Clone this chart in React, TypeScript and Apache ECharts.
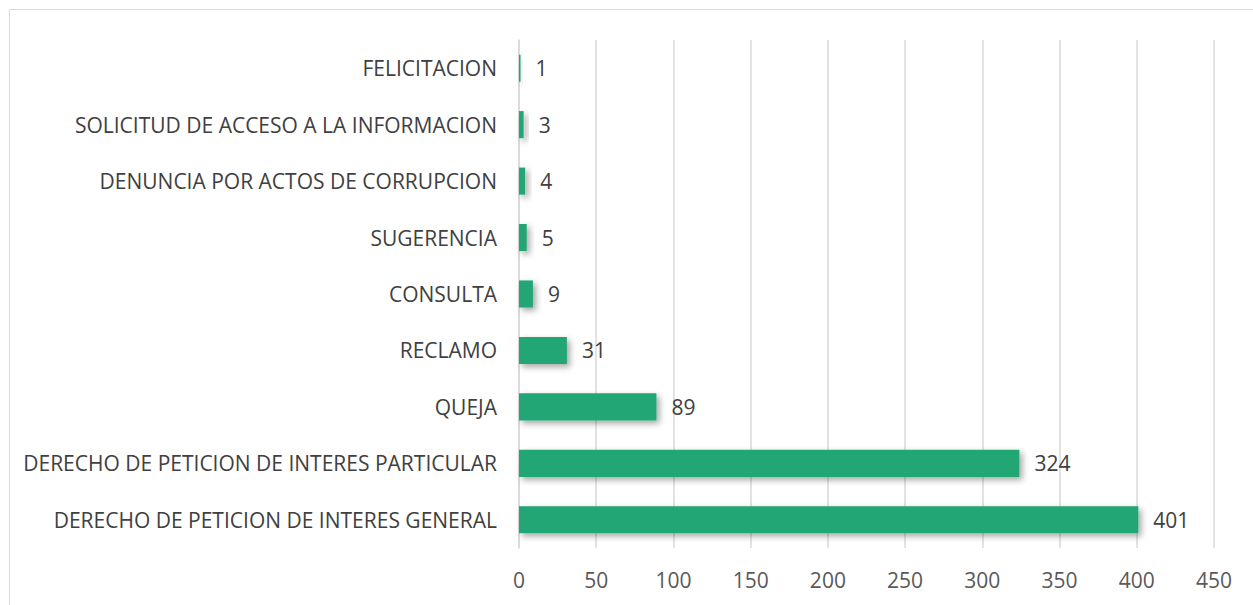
import React, { useEffect, useRef } from "react";
import * as echarts from "echarts";

const categories = [
  "DERECHO DE PETICION DE INTERES GENERAL",
  "DERECHO DE PETICION DE INTERES PARTICULAR",
  "QUEJA",
  "RECLAMO",
  "CONSULTA",
  "SUGERENCIA",
  "DENUNCIA POR ACTOS DE CORRUPCION",
  "SOLICITUD DE ACCESO A LA INFORMACION",
  "FELICITACION",
];
const values = [401, 324, 89, 31, 9, 5, 4, 3, 1];
const axisMax = 450;
const axisInterval = 50;

export default function App() {
  const ref = useRef<HTMLDivElement>(null);
  useEffect(() => {
    if (!ref.current) return;
    const chart = echarts.init(ref.current, undefined, { renderer: "svg" });
    const font = "'Open Sans', 'Noto Sans', sans-serif";
    chart.setOption({
      animation: false,
      backgroundColor: "#ffffff",
      graphic: [
        {
          type: "rect",
          shape: { x: 9.5, y: 9.5, width: 1260, height: 620 },
          style: { fill: "none", stroke: "#d9d9d9", lineWidth: 1 },
          silent: true,
        },
      ],
      grid: { left: 519, right: 39, top: 40, bottom: 57 },
      xAxis: {
        type: "value",
        min: 0,
        max: axisMax,
        interval: axisInterval,
        axisLine: { show: false },
        axisTick: { show: false },
        splitLine: { lineStyle: { color: "#d9d9d9", width: 1.5 } },
        axisLabel: { color: "#595959", fontSize: 21, fontFamily: font, margin: 21 },
      },
      yAxis: {
        type: "category",
        data: categories,
        axisLine: { show: true, lineStyle: { color: "#d9d9d9", width: 1.5 } },
        axisTick: { show: false },
        axisLabel: { color: "#404040", fontSize: 21, fontFamily: font, margin: 22 },
      },
      series: [
        {
          type: "bar",
          data: values,
          barCategoryGap: "52%",
          itemStyle: {
            color: "#21A675",
            shadowColor: "rgba(0,0,0,0.35)",
            shadowBlur: 6,
            shadowOffsetX: 3,
            shadowOffsetY: 3,
          },
          label: {
            show: true,
            position: "right",
            distance: 15,
            color: "#404040",
            fontSize: 21,
            fontFamily: font,
          },
        },
      ],
    });
    return () => chart.dispose();
  }, []);
  return (
    <div
      ref={ref}
      style={{ position: "fixed", left: 0, top: 0, width: 1253, height: 605 }}
    />
  );
}
